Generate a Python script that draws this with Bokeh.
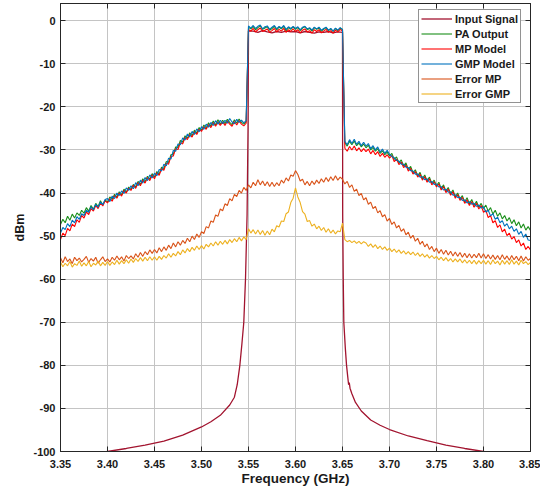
import numpy as np
from bokeh.plotting import figure
from bokeh.models import (FixedTicker, LinearAxis, Range1d,
                          CustomJSTickFormatter, PrintfTickFormatter)
from bokeh.embed import file_html
from bokeh.resources import INLINE

# ---------------- data ----------------
# frequency grid (GHz) for the measured / modelled spectra, 3.35 .. 3.85
freq = np.round(3.35 + 0.0025 * np.arange(201), 4)

pa_output = [
    -47.3, -46.1, -46.9, -45.4, -46.3, -44.9, -45.8, -44.6, -45.2, -44.0,
    -44.7, -43.4, -44.2, -42.9, -43.8, -42.4, -43.2, -41.8, -42.8, -41.6,
    -42.1, -40.9, -41.5, -40.3, -41.0, -39.7, -40.4, -39.1, -39.8, -38.6,
    -39.2, -38.0, -38.6, -37.3, -38.0, -36.7, -37.4, -36.1, -36.8, -35.5,
    -36.3, -35.0, -35.6, -34.0, -34.3, -32.7, -32.9, -31.1, -31.0, -29.3,
    -29.4, -27.8, -28.2, -26.7, -27.3, -26.0, -26.7, -25.4, -26.1, -24.8,
    -25.4, -24.2, -24.9, -23.7, -24.5, -23.3, -24.2, -23.0, -24.0, -23.1,
    -23.9, -22.9, -23.6, -24.1, -23.0, -23.8, -22.8, -23.6, -24.0, -23.4,
    -1.5, -1.9, -1.3, -2.1, -1.6, -1.2, -2.0, -1.7, -1.4, -2.2,
    -1.8, -1.3, -2.1, -1.5, -1.9, -1.3, -2.3, -1.6, -2.0, -1.4,
    -2.0, -1.6, -2.3, -1.7, -1.4, -2.1, -1.8, -2.4, -1.6, -2.0,
    -1.7, -2.4, -2.0, -1.6, -2.3, -1.9, -2.5, -1.8, -2.3, -1.7,
    -2.1, -28.3, -29.1, -28.0, -28.8, -27.9, -29.0, -28.4, -29.3, -28.6,
    -29.5, -28.9, -30.0, -29.4, -30.3, -29.7, -30.8, -30.2, -31.1, -30.5,
    -31.4, -30.8, -32.2, -31.6, -33.0, -32.3, -33.7, -33.0, -34.5, -33.8,
    -35.3, -34.6, -36.0, -35.2, -36.7, -35.8, -37.2, -36.3, -37.8, -37.0,
    -38.3, -37.5, -39.0, -38.1, -39.6, -38.7, -40.2, -39.3, -40.9, -40.0,
    -41.4, -40.6, -42.1, -41.1, -42.5, -41.5, -42.9, -41.9, -43.3, -42.4,
    -43.6, -42.8, -44.2, -43.4, -44.9, -44.0, -45.4, -44.6, -46.0, -45.2,
    -46.5, -45.7, -47.1, -46.2, -47.6, -46.7, -48.1, -47.2, -48.6, -47.8,
    -48.7,
]

mp_model = [
    -50.8, -49.3, -49.9, -48.2, -48.8, -47.2, -47.8, -46.2, -46.8, -45.2,
    -45.8, -44.4, -45.0, -43.6, -44.2, -42.9, -43.6, -42.3, -43.0, -41.8,
    -42.3, -41.3, -41.9, -40.6, -41.2, -40.0, -40.7, -39.4, -40.0, -38.9,
    -39.4, -38.2, -38.9, -37.6, -38.3, -37.0, -37.7, -36.4, -37.1, -35.8,
    -36.7, -35.3, -35.9, -34.3, -34.7, -33.1, -33.3, -31.5, -31.4, -29.7,
    -29.9, -28.3, -28.6, -27.1, -27.6, -26.4, -27.0, -25.8, -26.4, -25.2,
    -25.7, -24.6, -25.2, -24.1, -24.8, -23.7, -24.5, -23.5, -24.3, -23.5,
    -24.3, -23.3, -24.0, -24.5, -23.4, -24.2, -23.2, -24.0, -24.4, -23.8,
    -2.0, -2.4, -1.8, -2.6, -2.1, -1.7, -2.5, -2.2, -1.9, -2.7,
    -2.3, -1.8, -2.6, -2.0, -2.4, -1.8, -2.7, -2.1, -2.5, -1.9,
    -2.5, -2.1, -2.8, -2.2, -1.9, -2.6, -2.3, -2.9, -2.1, -2.5,
    -2.1, -2.8, -2.4, -2.0, -2.7, -2.3, -2.9, -2.2, -2.6, -2.0,
    -2.4, -29.6, -30.3, -29.2, -30.0, -29.1, -30.2, -29.5, -30.4, -29.7,
    -30.4, -29.8, -30.9, -30.1, -31.1, -30.4, -31.5, -30.8, -31.7, -31.1,
    -31.9, -31.3, -32.7, -32.1, -33.4, -32.8, -34.1, -33.5, -34.9, -34.3,
    -35.6, -35.0, -36.3, -35.6, -37.0, -36.2, -37.5, -36.7, -38.1, -37.4,
    -38.6, -37.9, -39.3, -38.5, -39.9, -39.1, -40.5, -39.7, -41.2, -40.4,
    -41.7, -41.0, -42.4, -41.6, -42.9, -42.0, -43.3, -42.4, -43.7, -42.9,
    -44.5, -44.0, -45.7, -45.2, -46.9, -46.4, -48.0, -47.4, -49.0, -48.4,
    -49.9, -49.3, -50.7, -50.1, -51.5, -50.9, -52.3, -51.6, -53.1, -52.4,
    -53.2,
]

gmp_model = [
    -49.3, -48.0, -48.5, -47.1, -47.8, -46.3, -46.9, -45.5, -46.1, -44.8,
    -45.2, -44.0, -44.5, -43.2, -43.9, -42.6, -43.3, -42.1, -42.7, -41.5,
    -41.3, -42.0, -40.7, -41.3, -40.0, -40.6, -39.5, -40.1, -38.8, -39.4,
    -38.3, -39.0, -37.6, -38.3, -37.0, -37.7, -36.4, -37.1, -35.8, -36.5,
    -35.4, -36.0, -34.5, -34.9, -33.3, -33.7, -31.9, -32.1, -30.1, -30.3,
    -28.6, -28.8, -27.2, -27.7, -26.3, -27.0, -25.7, -26.4, -25.1, -25.8,
    -24.6, -25.2, -24.0, -24.7, -23.6, -24.3, -23.2, -24.0, -23.1, -23.9,
    -23.1, -23.8, -22.7, -23.5, -23.9, -22.9, -23.6, -23.1, -23.7, -23.2,
    -1.2, -1.7, -1.1, -1.8, -1.3, -1.0, -1.9, -1.4, -1.2, -2.0,
    -1.5, -1.1, -1.9, -1.3, -1.7, -1.1, -2.0, -1.4, -1.8, -1.3,
    -1.8, -1.4, -2.1, -1.5, -1.3, -1.9, -1.6, -2.2, -1.5, -1.9,
    -1.5, -2.2, -1.8, -1.5, -2.2, -1.8, -2.4, -1.7, -2.2, -1.6,
    -2.0, -28.0, -28.8, -27.6, -28.5, -27.5, -28.7, -28.0, -29.0, -28.2,
    -29.1, -28.5, -29.7, -29.0, -30.0, -29.3, -30.5, -29.8, -30.8, -30.1,
    -31.0, -31.5, -31.8, -32.4, -32.6, -33.3, -33.3, -34.0, -34.1, -34.8,
    -34.9, -35.6, -35.6, -36.3, -36.2, -36.9, -36.7, -37.5, -37.3, -38.0,
    -37.9, -38.6, -38.5, -39.3, -39.1, -39.8, -39.7, -40.5, -40.4, -41.0,
    -41.0, -41.7, -41.6, -42.3, -42.0, -42.6, -42.4, -43.1, -42.8, -43.5,
    -43.2, -44.4, -44.0, -45.3, -44.8, -46.1, -45.6, -46.9, -46.4, -47.7,
    -47.1, -48.3, -47.7, -48.9, -48.3, -49.6, -48.9, -50.3, -49.5, -50.9,
    -51.0,
]

error_mp = [
    -55.0, -56.2, -54.8, -55.9, -55.3, -56.4, -54.9, -55.7, -55.1, -56.0,
    -55.4, -54.7, -56.1, -55.2, -55.8, -54.9, -56.3, -55.5, -54.8, -55.9,
    -55.3, -56.0, -54.9, -55.6, -54.6, -55.5, -54.8, -55.8, -54.5, -55.2,
    -54.6, -55.3, -54.1, -54.9, -53.8, -54.7, -53.6, -54.3, -53.2, -54.0,
    -53.1, -53.9, -52.7, -53.6, -52.5, -53.3, -52.1, -52.9, -51.6, -52.5,
    -51.3, -52.1, -51.0, -51.7, -50.5, -51.3, -50.0, -50.8, -49.5, -50.3,
    -49.0, -49.4, -47.8, -48.1, -46.5, -46.8, -45.1, -45.4, -43.7, -44.1,
    -42.5, -42.9, -41.3, -41.8, -40.3, -40.8, -39.4, -40.0, -38.7, -39.4,
    -38.1, -38.8, -37.5, -38.3, -36.9, -38.1, -37.2, -38.3, -37.4, -38.5,
    -37.5, -38.5, -37.6, -38.3, -37.0, -37.7, -36.5, -37.2, -35.8, -36.1,
    -34.8, -35.7, -37.2, -36.8, -38.1, -37.3, -38.3, -37.2, -38.0, -37.0,
    -37.8, -36.7, -37.5, -36.4, -37.3, -36.2, -37.1, -36.0, -37.0, -36.3,
    -36.8, -37.9, -37.3, -38.7, -38.1, -39.6, -39.1, -40.6, -40.1, -41.6,
    -41.1, -42.6, -42.1, -43.6, -43.1, -44.6, -44.1, -45.5, -45.0, -46.5,
    -45.9, -47.3, -46.7, -48.1, -47.5, -48.9, -48.3, -49.7, -49.1, -50.5,
    -49.8, -51.2, -50.5, -51.9, -51.2, -52.5, -51.8, -53.1, -52.4, -53.6,
    -52.8, -54.0, -53.1, -54.2, -53.3, -54.4, -53.5, -54.6, -53.7, -54.7,
    -53.8, -54.9, -54.0, -55.0, -54.1, -55.1, -54.2, -55.0, -54.0, -55.1,
    -54.1, -55.2, -54.3, -55.3, -54.4, -55.4, -54.5, -55.5, -54.3, -55.4,
    -54.6, -55.6, -54.5, -55.5, -54.7, -55.7, -54.6, -55.8, -54.8, -55.6,
    -55.2,
]

error_gmp = [
    -56.0, -57.1, -56.3, -56.9, -55.9, -57.2, -56.4, -56.8, -55.8, -57.0,
    -56.2, -56.9, -55.9, -57.1, -56.3, -56.7, -55.8, -56.9, -56.1, -56.8,
    -55.9, -56.8, -56.0, -56.6, -55.6, -56.5, -55.7, -56.4, -55.5, -56.3,
    -55.3, -56.1, -55.2, -55.9, -55.0, -55.8, -54.9, -55.7, -54.8, -55.6,
    -54.8, -55.6, -54.7, -55.4, -54.5, -55.1, -54.1, -54.9, -54.0, -54.6,
    -53.6, -54.3, -53.2, -53.9, -52.9, -53.6, -52.6, -53.3, -52.3, -53.1,
    -52.2, -53.0, -51.9, -52.5, -51.6, -52.3, -51.3, -52.1, -51.2, -51.9,
    -51.0, -51.8, -50.8, -51.5, -50.6, -51.3, -50.3, -51.1, -50.2, -50.8,
    -48.3, -49.3, -48.5, -49.5, -48.6, -49.6, -48.7, -49.8, -48.8, -49.7,
    -48.4, -49.0, -47.6, -47.9, -46.5, -46.6, -44.8, -44.4, -42.2, -41.2,
    -38.8, -40.9, -42.2, -44.3, -44.9, -46.6, -46.4, -47.7, -47.2, -48.3,
    -47.7, -48.7, -48.0, -49.1, -48.3, -49.3, -48.6, -49.5, -48.8, -49.0,
    -47.0, -50.8, -51.3, -51.0, -51.5, -51.1, -51.7, -51.2, -51.8, -51.3,
    -51.6, -52.4, -51.8, -52.6, -52.0, -52.9, -52.3, -53.1, -52.5, -53.3,
    -52.8, -53.6, -53.0, -53.8, -53.2, -54.0, -53.4, -54.2, -53.6, -54.3,
    -53.7, -54.5, -53.9, -54.7, -54.1, -54.9, -54.3, -55.1, -54.5, -55.2,
    -54.7, -55.5, -54.9, -55.7, -55.0, -55.8, -55.2, -56.0, -55.3, -56.0,
    -55.3, -56.2, -55.5, -56.3, -55.6, -56.4, -55.6, -56.5, -55.7, -56.4,
    -55.6, -56.5, -55.7, -56.6, -55.5, -56.4, -55.8, -56.7, -55.6, -56.5,
    -55.7, -56.6, -55.5, -56.5, -55.8, -56.7, -55.6, -56.4, -55.9, -56.6,
    -56.1,
]

# input signal (smooth skirt, own frequency samples)
input_freq = [
    3.395, 3.40, 3.42, 3.44, 3.46, 3.48, 3.50, 3.51, 3.52, 3.53, 3.535,
    3.538, 3.5408, 3.543, 3.545, 3.5468, 3.5485, 3.5495, 3.55,
    3.555, 3.56, 3.565, 3.57, 3.575, 3.58, 3.585, 3.59, 3.595, 3.60,
    3.605, 3.61, 3.615, 3.62, 3.625, 3.63, 3.635, 3.64, 3.645, 3.65,
    3.6502, 3.6508, 3.6514, 3.653, 3.6543, 3.6555, 3.6565, 3.6572, 3.658,
    3.66, 3.6638, 3.67, 3.68, 3.69, 3.70, 3.72, 3.74, 3.76, 3.78, 3.80, 3.805,
]
input_signal = [
    -100.2, -100.0, -99.3, -98.5, -97.6, -96.2, -94.3, -93.1, -91.6, -89.2, -87.4,
    -84.5, -80.0, -75.0, -70.0, -60.0, -45.0, -25.0, -2.4,
    -2.4, -2.7, -2.3, -2.6, -2.8, -2.5, -2.7, -2.4, -2.6, -2.5,
    -2.8, -2.5, -2.7, -2.9, -2.6, -2.7, -2.5, -2.8, -2.6, -2.7,
    -45.0, -60.0, -70.0, -76.0, -80.0, -82.5, -84.5, -84.0, -85.3,
    -86.6, -88.6, -90.6, -92.7, -93.9, -94.9, -96.4, -97.5, -98.5, -99.3, -100.0, -100.2,
]

x_ticks = [3.35, 3.40, 3.45, 3.50, 3.55, 3.60, 3.65, 3.70, 3.75, 3.80, 3.85]
y_ticks = [-100, -90, -80, -70, -60, -50, -40, -30, -20, -10, 0]

series = [
    ("Input Signal", input_freq, input_signal, "#a2142f", 1.3),
    ("PA Output", freq, pa_output, "#1a8f1a", 1.1),
    ("MP Model", freq, mp_model, "#ff0000", 1.1),
    ("GMP Model", freq, gmp_model, "#0072bd", 1.1),
    ("Error MP", freq, error_mp, "#d95319", 1.1),
    ("Error GMP", freq, error_gmp, "#edb120", 1.1),
]

# ---------------- figure ----------------
FONT = "Liberation Sans"
TXT = "#1a1a1a"

p = figure(width=540, height=488,
           x_range=Range1d(3.35, 3.85), y_range=Range1d(-100, 4),
           output_backend="svg", toolbar_location=None,
           min_border_left=60, min_border_right=10,
           min_border_top=3, min_border_bottom=36)

p.background_fill_color = "white"
p.border_fill_color = "white"
p.outline_line_color = "#262626"
p.outline_line_width = 1

for name, xs, ys, col, lw in series:
    p.line(xs, ys, line_color=col, line_width=lw, legend_label=name)

# axes styling
for ax in (p.xaxis[0], p.yaxis[0]):
    ax.axis_line_color = "#262626"
    ax.major_tick_line_color = "#262626"
    ax.major_tick_in = 5
    ax.major_tick_out = 0
    ax.minor_tick_line_color = None
    ax.major_label_text_font = FONT
    ax.major_label_text_font_style = "bold"
    ax.major_label_text_font_size = "11px"
    ax.major_label_text_color = TXT
    ax.axis_label_text_font = FONT
    ax.axis_label_text_font_style = "bold"
    ax.axis_label_text_color = TXT

p.xaxis.ticker = FixedTicker(ticks=x_ticks)
p.xaxis.formatter = PrintfTickFormatter(format="%.2f")
p.xaxis.axis_label = "Frequency (GHz)"
p.xaxis.axis_label_text_font_size = "13.5px"
p.xaxis.major_label_standoff = 8
p.xaxis.axis_label_standoff = 0

p.yaxis.ticker = FixedTicker(ticks=y_ticks)
p.yaxis.formatter = PrintfTickFormatter(format="%d")
p.yaxis.axis_label = "dBm"
p.yaxis.axis_label_text_font_size = "12.5px"
p.yaxis.major_label_standoff = 5
p.yaxis.axis_label_standoff = 3

# top / right axes: ticks only (box style)
blank = CustomJSTickFormatter(code="return ''")
for side, ticks in (("above", x_ticks), ("right", y_ticks)):
    ax = LinearAxis(ticker=FixedTicker(ticks=ticks), formatter=blank,
                    major_tick_in=5, major_tick_out=0,
                    minor_tick_line_color=None, axis_line_color="#262626",
                    major_tick_line_color="#262626", major_label_standoff=0,
                    major_label_text_font_size="0px", axis_label_standoff=0)
    p.add_layout(ax, side)

# grid
p.grid.grid_line_color = "#c4c4c4"
p.grid.grid_line_width = 1
p.xgrid.ticker = FixedTicker(ticks=x_ticks)
p.ygrid.ticker = FixedTicker(ticks=y_ticks)

# legend
lg = p.legend[0]
lg.location = (358, 348)
lg.border_line_color = "#262626"
lg.border_line_width = 1
lg.background_fill_color = "white"
lg.background_fill_alpha = 1.0
lg.label_text_font = FONT
lg.label_text_font_style = "bold"
lg.label_text_font_size = "11px"
lg.label_text_color = TXT
lg.glyph_width = 31
lg.glyph_height = 13
lg.label_height = 13
lg.label_standoff = 3
lg.spacing = 2
lg.padding = 2
lg.margin = 0

open("out.html", "w").write(file_html(p, INLINE))
